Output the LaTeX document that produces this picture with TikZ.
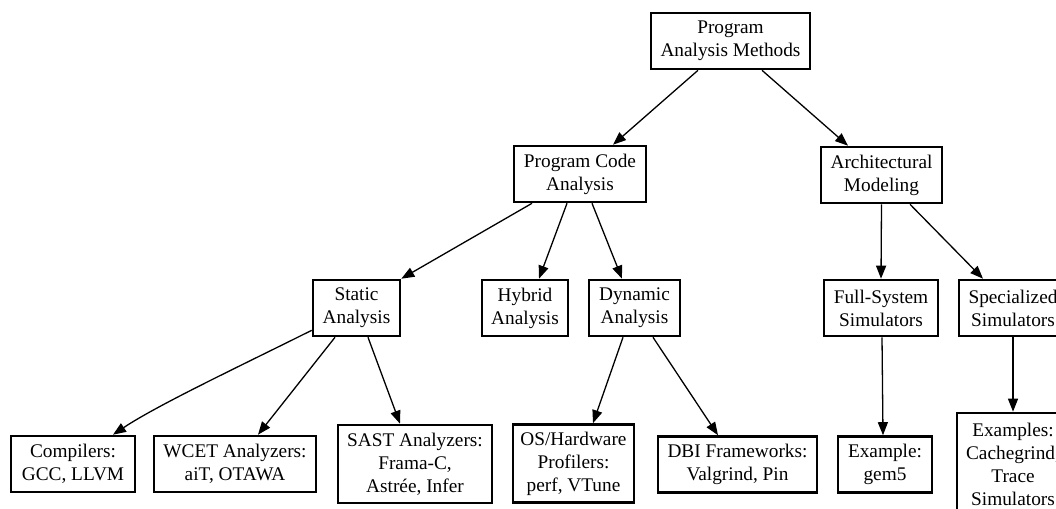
\documentclass[tikz,border=0pt]{standalone}
\usepackage{fontspec}
\setmainfont{Liberation Serif}
\usetikzlibrary{arrows.meta}
\begin{document}
\begin{tikzpicture}[x=1pt,y=-1pt,
  box/.style={draw=black, line width=2.6pt, align=center, inner sep=0pt,
    font=\fontsize{19.3}{23}\selectfont},
  edge/.style={draw=black, line width=1.3pt, -{Triangle[length=13pt,width=10pt]}}]
\useasboundingbox (0,0) rectangle (1056,508);
\clip (0,0) rectangle (1056,508);
% level 0
\node[box, minimum width=159pt, minimum height=56pt] (root) at (730.5,41) {Program\\Analysis Methods};
% level 1
\node[box, minimum width=132pt, minimum height=56pt] (pca) at (580,174) {Program Code\\Analysis};
\node[box, minimum width=121pt, minimum height=56pt] (arch) at (881.5,175) {Architectural\\Modeling};
% level 2
\node[box, minimum width=87pt, minimum height=56pt] (st) at (356.5,308) {Static\\Analysis};
\node[box, minimum width=86pt, minimum height=56pt] (hy) at (525,308) {Hybrid\\Analysis};
\node[box, minimum width=91pt, minimum height=56pt] (dy) at (634.5,308) {Dynamic\\Analysis};
\node[box, minimum width=114pt, minimum height=56pt] (full) at (881,308) {Full-System\\Simulators};
\node[box, minimum width=108pt, minimum height=56pt] (spec) at (1013,308) {Specialized\\Simulators};
% level 3
\node[box, minimum width=124pt, minimum height=56pt] (comp) at (73,464) {Compilers:\\GCC, LLVM};
\node[box, minimum width=162pt, minimum height=56pt] (wcet) at (235,464) {WCET Analyzers:\\aiT, OTAWA};
\node[box, minimum width=154pt, minimum height=78pt] (sast) at (415,464) {SAST Analyzers:\\Frama-C,\\Astrée, Infer};
\node[box, minimum width=121pt, minimum height=78pt] (os) at (573.5,463.5) {OS/Hardware\\Profilers:\\perf, VTune};
\node[box, minimum width=159pt, minimum height=56pt] (dbi) at (737.5,464.5) {DBI Frameworks:\\Valgrind, Pin};
\node[box, minimum width=94pt, minimum height=56pt] (gem) at (885,464.5) {Example:\\gem5};
\node[box, minimum width=112pt, minimum height=102pt] (ex) at (1013,464) {Examples:\\Cachegrind,\\Trace\\Simulators};
% edges
\draw[edge] ([xshift=-32.5pt]root.south) -- ([xshift=33pt]pca.north);
\draw[edge] ([xshift=31.5pt]root.south) -- ([xshift=-33.5pt]arch.north);
\draw[edge] ([xshift=-48pt]pca.south) -- (st.north east);
\draw[edge] ([xshift=-13pt]pca.south) -- ([xshift=14pt]hy.north);
\draw[edge] ([xshift=12pt]pca.south) -- ([xshift=-12.5pt]dy.north);
\draw[edge] ([yshift=7pt]st.south west) .. controls +(-70,35) and +(45,-30) .. ([xshift=40pt]comp.north);
\draw[edge] ([xshift=-21.5pt]st.south) -- ([xshift=23pt]wcet.north);
\draw[edge] ([xshift=11.5pt]st.south) -- ([xshift=-15pt]sast.north);
\draw[edge] ([xshift=-11.5pt]dy.south) -- ([xshift=19.5pt]os.north);
\draw[edge] ([xshift=18.5pt]dy.south) -- ([xshift=-19.5pt]dbi.north);
\draw[edge] (arch.south) -- (full.north);
\draw[edge] ([xshift=28.5pt]arch.south) -- ([xshift=-30pt]spec.north);
\draw[edge] ([xshift=1pt]full.south) -- ([xshift=-2pt]gem.north);
\draw[edge] (spec.south) -- (ex.north);
\end{tikzpicture}
\end{document}
